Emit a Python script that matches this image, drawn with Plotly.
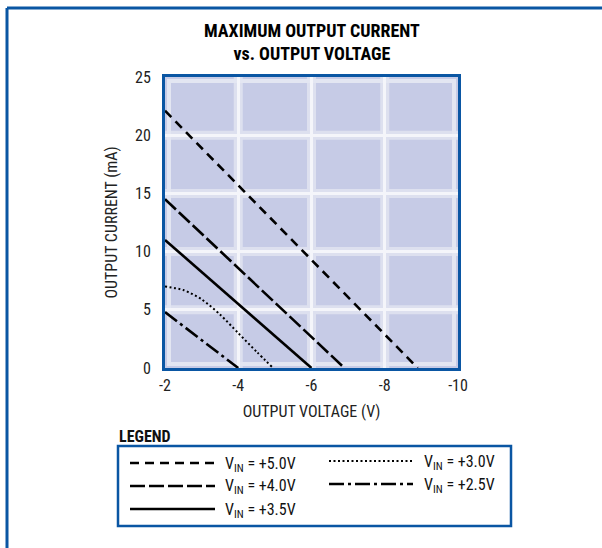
import plotly.graph_objects as go

# ---------------- data ----------------
series_labels = ["+5.0V", "+4.0V", "+3.5V", "+3.0V", "+2.5V"]
vout_50 = [-2.0, -8.9]
iout_50 = [22.1, 0.0]
vout_40 = [-2.0, -6.9]
iout_40 = [14.5, 0.0]
vout_35 = [-2.0, -6.0]
iout_35 = [11.0, 0.0]
vout_30 = [-2.0, -2.5, -3.0, -3.5, -4.0, -4.5, -4.95]
iout_30 = [7.0, 6.7, 5.9, 4.6, 3.0, 1.4, 0.0]
vout_25 = [-2.0, -4.0]
iout_25 = [4.8, 0.0]
x_ticks = [-2, -4, -6, -8, -10]
y_ticks = [0, 5, 10, 15, 20, 25]

# ---------------- styles ----------------
W, H = 602, 548
PL, PR, PT, PB = 165, 458, 77, 368
FONT = "Liberation Sans Narrow, Arial Narrow, Roboto Condensed, Liberation Sans, sans-serif"
BLUE = "#0a56a3"
BG = "#c6cbe6"

styles = {
    "+5.0V": dict(dash="9px,6px", width=2.6),
    "+4.0V": dict(dash="15px,4px", width=2.6),
    "+3.5V": dict(dash="solid", width=2.6),
    "+3.0V": dict(dash="2px,2.5px", width=2.0),
    "+2.5V": dict(dash="15px,4px,3px,4px", width=2.6),
}
data = {
    "+5.0V": (vout_50, iout_50),
    "+4.0V": (vout_40, iout_40),
    "+3.5V": (vout_35, iout_35),
    "+3.0V": (vout_30, iout_30),
    "+2.5V": (vout_25, iout_25),
}


def px(x):
    return (x - PL) / (PR - PL)


def py(y):
    return (PB - y) / (PB - PT)


fig = go.Figure()
for lab in series_labels:
    xs, ys = data[lab]
    st = styles[lab]
    fig.add_trace(go.Scatter(
        x=xs, y=ys, mode="lines", name=lab, showlegend=False,
        line=dict(color="black", width=st["width"], dash=st["dash"],
                  shape="spline" if len(xs) > 2 else "linear", smoothing=0.8),
        hoverinfo="skip",
    ))

shapes = []
# glow under grid lines
for gx in x_ticks[1:-1]:
    shapes.append(dict(type="line", xref="x", yref="paper", x0=gx, x1=gx, y0=0, y1=1,
                       line=dict(color="#dde0ef", width=9), layer="below"))
for gy in y_ticks[1:-1]:
    shapes.append(dict(type="line", xref="paper", yref="y", x0=0, x1=1, y0=gy, y1=gy,
                       line=dict(color="#dde0ef", width=9), layer="below"))
# inner edge glow
shapes.append(dict(type="rect", xref="paper", yref="paper", x0=px(PL + 4), x1=px(PR - 4),
                   y0=py(PB - 4), y1=py(PT + 4),
                   line=dict(color="#e3e6f2", width=4), layer="below"))

# page frame (top and left)
shapes.append(dict(type="line", xref="paper", yref="paper", x0=px(7), x1=px(W + 5),
                   y0=py(8), y1=py(8), line=dict(color=BLUE, width=3)))
shapes.append(dict(type="line", xref="paper", yref="paper", x0=px(7), x1=px(7),
                   y0=py(8), y1=py(H + 5), line=dict(color=BLUE, width=3)))

# legend box
LBX0, LBX1, LBY0, LBY1 = 118, 511, 446, 526
shapes.append(dict(type="rect", xref="paper", yref="paper", x0=px(LBX0), x1=px(LBX1),
                   y0=py(LBY1), y1=py(LBY0), line=dict(color=BLUE, width=2.5),
                   fillcolor="white"))

annotations = []
legend_pos = {
    "+5.0V": (130, 215, 223, 463),
    "+4.0V": (130, 215, 223, 486),
    "+3.5V": (130, 215, 223, 509),
    "+3.0V": (329, 413, 422, 461),
    "+2.5V": (329, 413, 422, 484),
}
for lab in series_labels:
    x0, x1, tx, yy = legend_pos[lab]
    st = styles[lab]
    shapes.append(dict(type="line", xref="paper", yref="paper", x0=px(x0), x1=px(x1),
                       y0=py(yy), y1=py(yy),
                       line=dict(color="black", width=st["width"], dash=st["dash"])))
    annotations.append(dict(xref="paper", yref="paper", x=px(tx), y=py(yy + 1),
                            xanchor="left", yanchor="middle", showarrow=False,
                            text="V<sub>IN</sub> = " + lab,
                            font=dict(family=FONT, size=16, color="#111")))

annotations.append(dict(xref="paper", yref="paper", x=px(117), y=py(436),
                        xanchor="left", yanchor="middle", showarrow=False,
                        text="<b>LEGEND</b>", font=dict(family=FONT, size=16, color="#111")))
annotations.append(dict(xref="paper", yref="paper", x=px(312), y=py(42),
                        xanchor="center", yanchor="middle", showarrow=False,
                        text="<b>MAXIMUM OUTPUT CURRENT<br>vs. OUTPUT VOLTAGE</b>",
                        font=dict(family=FONT, size=18, color="#000")))

fig.update_layout(
    width=W, height=H,
    margin=dict(l=PL, r=W - PR, t=PT, b=H - PB, pad=0),
    paper_bgcolor="white",
    plot_bgcolor=BG,
    shapes=shapes,
    annotations=annotations,
    showlegend=False,
    font=dict(family=FONT, size=15, color="#222"),
)
fig.update_xaxes(
    range=[-2, -10], tickvals=x_ticks, ticktext=[str(v) for v in x_ticks],
    showgrid=True, gridcolor="#f4f5fa", gridwidth=3,
    showline=True, linecolor=BLUE, linewidth=3, mirror=True,
    ticks="outside", ticklen=1, tickcolor="rgba(0,0,0,0)", zeroline=False,
    title=dict(text="OUTPUT VOLTAGE (V)", font=dict(family=FONT, size=16, color="#222"), standoff=12),
    tickfont=dict(family=FONT, size=16, color="#222"),
)
fig.update_yaxes(
    range=[0, 25], tickvals=y_ticks, ticktext=[str(v) for v in y_ticks],
    showgrid=True, gridcolor="#f4f5fa", gridwidth=3,
    showline=True, linecolor=BLUE, linewidth=3, mirror=True,
    ticks="outside", ticklen=8, tickcolor="rgba(0,0,0,0)", zeroline=False,
    title=dict(text="OUTPUT CURRENT (mA)", font=dict(family=FONT, size=16, color="#222"), standoff=14),
    tickfont=dict(family=FONT, size=16, color="#222"),
)

fig.write_html("out.html", config={"displayModeBar": False, "staticPlot": True},
               post_script="document.body.style.margin='0';")
